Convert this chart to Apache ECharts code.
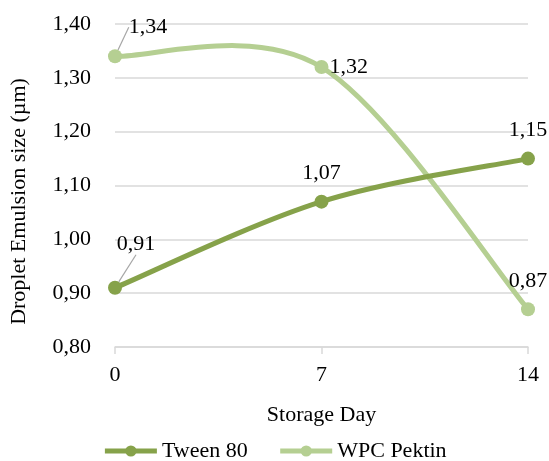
<!DOCTYPE html>
<html><head><meta charset="utf-8">
<script src="https://cdn.jsdelivr.net/npm/echarts@6/dist/echarts.min.js"></script>
<style>html,body{margin:0;padding:0;background:#fff}#c{width:549px;height:461px}</style>
</head><body><div id="c"></div>
<script>
const categories = ['0', '7', '14'];
const tween80 = [0.91, 1.07, 1.15];
const wpcPektin = [1.34, 1.32, 0.87];
const seriesNames = ['Tween 80', 'WPC Pektin'];
const colors = ['#86a24a', '#b5cf92'];

const font = '"Liberation Serif", "Times New Roman", serif';
const fs = 22;
const fmt = v => v.toFixed(2).replace('.', ',');
const chart = echarts.init(document.getElementById('c'));

// Excel-like (Catmull-Rom) smoothed curve, positioned through the axes via api.coord
function curveSeries(values, color, z) {
  const n = values.length;
  const idx = k => Math.min(Math.max(k, 0), n - 1);
  return {
    type: 'custom', name: '_curve' + z, silent: true, z: z,
    data: values.map((v, i) => [i, v]),
    renderItem: (params, api) => {
      const i = params.dataIndex;
      if (i >= n - 1) return {type: 'group', children: []};
      const P = k => api.coord([idx(k), values[idx(k)]]);
      const p0 = P(i - 1), p1 = P(i), p2 = P(i + 1), p3 = P(i + 2);
      return {
        type: 'bezierCurve',
        shape: {
          x1: p1[0], y1: p1[1], x2: p2[0], y2: p2[1],
          cpx1: p1[0] + (p2[0] - p0[0]) / 6, cpy1: p1[1] + (p2[1] - p0[1]) / 6,
          cpx2: p2[0] - (p3[0] - p1[0]) / 6, cpy2: p2[1] - (p3[1] - p1[1]) / 6
        },
        style: {stroke: color, lineWidth: 5, fill: null, lineCap: 'round'}
      };
    }
  };
}

const labelBase = {show: true, position: 'top', distance: 10, fontFamily: font, fontSize: fs, color: '#000', formatter: p => fmt(p.value)};
const guide = {show: true, lineStyle: {color: '#a6a6a6', width: 1.2}};
// leader-line label shifts (only first points have callouts)
const tweenShift = {0: [21, -16]};
const wpcShift = {0: [33, -1]};

function pointData(values, special) {
  return values.map((v, i) => special[i] ? Object.assign({value: v}, special[i]) : v);
}

chart.setOption({
  animation: false,
  grid: {left: 111, right: 21, top: 24, bottom: 114},
  legend: {
    top: 435, left: 'center', itemWidth: 52, itemHeight: 14, itemGap: 30,
    textStyle: {fontFamily: font, fontSize: fs, color: '#000'},
    data: seriesNames.map((s, i) => ({name: s, lineStyle: {opacity: 1, width: 5, color: colors[i]}}))
  },
  xAxis: {
    type: 'category', data: categories, boundaryGap: false,
    name: 'Storage Day', nameLocation: 'middle', nameGap: 57,
    nameTextStyle: {fontFamily: font, fontSize: fs, color: '#000'},
    axisLine: {lineStyle: {color: '#d9d9d9', width: 1.5}},
    axisTick: {show: true, length: 7, lineStyle: {color: '#d9d9d9', width: 1.5}},
    axisLabel: {fontFamily: font, fontSize: fs, color: '#000', margin: 17}
  },
  yAxis: {
    type: 'value', min: 0.8, max: 1.4, interval: 0.1,
    name: 'Droplet Emulsion size (µm)', nameLocation: 'middle', nameGap: 85,
    nameTextStyle: {fontFamily: font, fontSize: 22, color: '#000', padding: [0, 32, 0, 0]},
    axisLine: {show: false}, axisTick: {show: false},
    splitLine: {lineStyle: {color: '#d9d9d9', width: 1.5}},
    axisLabel: {fontFamily: font, fontSize: fs, color: '#000', margin: 24, formatter: v => fmt(v)}
  },
  series: [
    curveSeries(wpcPektin, colors[1], 2),
    curveSeries(tween80, colors[0], 3),
    {
      name: seriesNames[0], type: 'line',
      symbol: 'circle', symbolSize: 14,
      lineStyle: {width: 5, color: colors[0], opacity: 0}, itemStyle: {color: colors[0]},
      label: labelBase,
      data: pointData(tween80, {0: {labelLine: guide}}),
      labelLayout: p => tweenShift[p.dataIndex] ? {dx: tweenShift[p.dataIndex][0], dy: tweenShift[p.dataIndex][1]} : {},
      z: 5
    },
    {
      name: seriesNames[1], type: 'line',
      symbol: 'circle', symbolSize: 14,
      lineStyle: {width: 5, color: colors[1], opacity: 0}, itemStyle: {color: colors[1]},
      label: labelBase,
      data: pointData(wpcPektin, {0: {labelLine: guide}, 1: {label: {position: 'right', distance: 1, offset: [0, -3]}}}),
      labelLayout: p => wpcShift[p.dataIndex] ? {dx: wpcShift[p.dataIndex][0], dy: wpcShift[p.dataIndex][1]} : {},
      z: 4
    }
  ]
});
</script></body></html>
